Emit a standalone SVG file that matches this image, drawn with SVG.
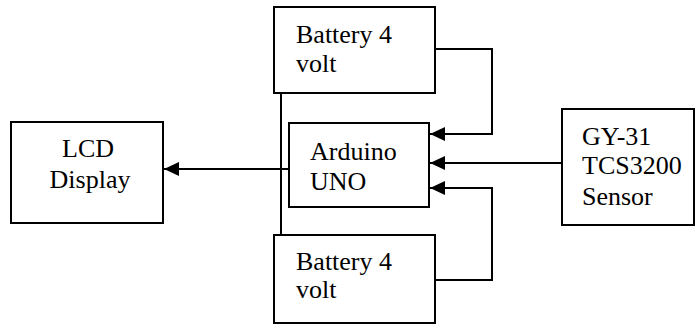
<svg xmlns="http://www.w3.org/2000/svg" width="697" height="325" viewBox="0 0 697 325">
<style>
.box{fill:#fff;stroke:#000;stroke-width:2}
.t{font-family:'Liberation Serif','Tinos','DejaVu Serif',serif;font-size:26px;fill:#000}
.ln{fill:none;stroke:#000;stroke-width:2}
</style>
<defs>
<marker id="ah" markerWidth="16" markerHeight="14" refX="15" refY="7" orient="auto" markerUnits="userSpaceOnUse">
<path d="M0,0 L15,7 L0,14 Z" fill="#000"/>
</marker>
</defs>
<g id="connectors">
<line class="ln" x1="281" y1="93" x2="281" y2="235"/>
<polyline class="ln" points="435,49 492,49 492,134 430,134" marker-end="url(#ah)"/>
<line class="ln" x1="562" y1="163" x2="430" y2="163" marker-end="url(#ah)"/>
<polyline class="ln" points="435,280 492,280 492,188 430,188" marker-end="url(#ah)"/>
<line class="ln" x1="289" y1="169" x2="164" y2="169" marker-end="url(#ah)"/>
</g>
<g id="battery-top">
<rect class="box" x="274" y="7" width="161" height="86"/>
<text class="t" x="296" y="43">Battery 4</text>
<text class="t" x="296" y="72">volt</text>
</g>
<g id="arduino">
<rect class="box" x="289" y="123" width="140" height="84"/>
<text class="t" x="310" y="160">Arduino</text>
<text class="t" x="310" y="190">UNO</text>
</g>
<g id="battery-bottom">
<rect class="box" x="274" y="235" width="161" height="88"/>
<text class="t" x="296" y="270">Battery 4</text>
<text class="t" x="296" y="298">volt</text>
</g>
<g id="lcd">
<rect class="box" x="11" y="122" width="152" height="101"/>
<text class="t" x="88" y="157" text-anchor="middle">LCD</text>
<text class="t" x="90" y="188" text-anchor="middle">Display</text>
</g>
<g id="sensor">
<rect class="box" x="562" y="109" width="132" height="116"/>
<text class="t" x="582" y="145">GY-31</text>
<text class="t" x="582" y="174">TCS3200</text>
<text class="t" x="582" y="205">Sensor</text>
</g>
</svg>
